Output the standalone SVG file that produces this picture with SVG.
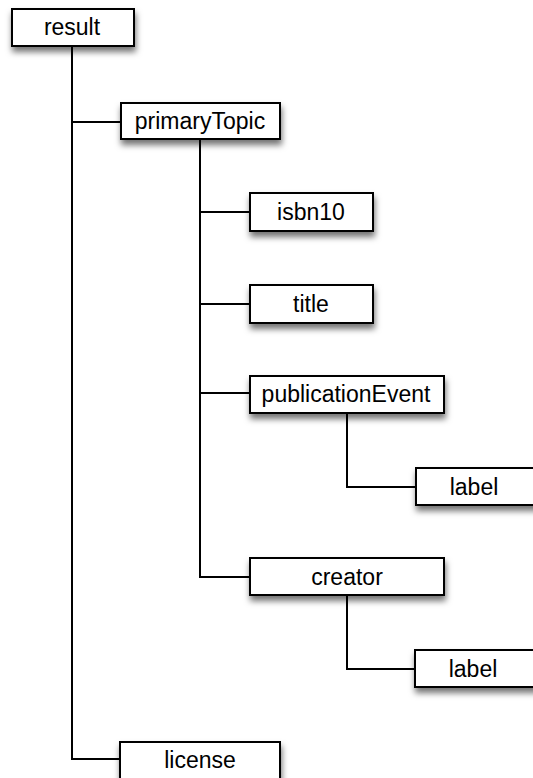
<svg xmlns="http://www.w3.org/2000/svg" width="533" height="778" viewBox="0 0 533 778">
  <style>
    .box { fill: #ffffff; stroke: #000000; stroke-width: 2; filter: url(#shadow); }
    .lbl { font-family: "Liberation Sans", Arial, Helvetica, sans-serif; font-size: 23px; fill: #000000; text-anchor: middle; }
    .wire { fill: none; stroke: #000000; stroke-width: 2; }
  </style>
  <defs>
    <filter id="shadow" x="-20%" y="-30%" width="140%" height="180%">
      <feDropShadow dx="1" dy="5" stdDeviation="3" flood-color="#000000" flood-opacity="0.55"/>
    </filter>
  </defs>
  <rect x="0" y="0" width="533" height="778" fill="#ffffff"/>

  <!-- tree connectors -->
  <g id="connectors">
    <path class="wire" d="M72 46 V759 H120"/>
    <path class="wire" d="M72 122 H121"/>
    <path class="wire" d="M200 139 V577 H250"/>
    <path class="wire" d="M200 212 H250"/>
    <path class="wire" d="M200 304 H250"/>
    <path class="wire" d="M200 393 H250"/>
    <path class="wire" d="M347 413 V487 H416"/>
    <path class="wire" d="M347 595 V669 H415"/>
  </g>

  <g id="result">
    <rect class="box" x="12" y="9" width="122" height="37"/>
    <text class="lbl" x="72" y="35">result</text>
  </g>
  <g id="primaryTopic">
    <rect class="box" x="121" y="103" width="159" height="36"/>
    <text class="lbl" x="200" y="129">primaryTopic</text>
  </g>
  <g id="isbn10">
    <rect class="box" x="250" y="193" width="123" height="38"/>
    <text class="lbl" x="311" y="220">isbn10</text>
  </g>
  <g id="title">
    <rect class="box" x="250" y="285" width="123" height="38"/>
    <text class="lbl" x="311" y="312">title</text>
  </g>
  <g id="publicationEvent">
    <rect class="box" x="250" y="376" width="194" height="37"/>
    <text class="lbl" x="346" y="402">publicationEvent</text>
  </g>
  <g id="publicationEvent-label">
    <rect class="box" x="416" y="468" width="123" height="37"/>
    <text class="lbl" x="474" y="495">label</text>
  </g>
  <g id="creator">
    <rect class="box" x="250" y="558" width="194" height="37"/>
    <text class="lbl" x="347" y="585">creator</text>
  </g>
  <g id="creator-label">
    <rect class="box" x="415" y="650" width="123" height="37"/>
    <text class="lbl" x="473" y="677">label</text>
  </g>
  <g id="license">
    <rect class="box" x="120" y="742" width="160" height="37"/>
    <text class="lbl" x="200" y="768">license</text>
  </g>
</svg>
